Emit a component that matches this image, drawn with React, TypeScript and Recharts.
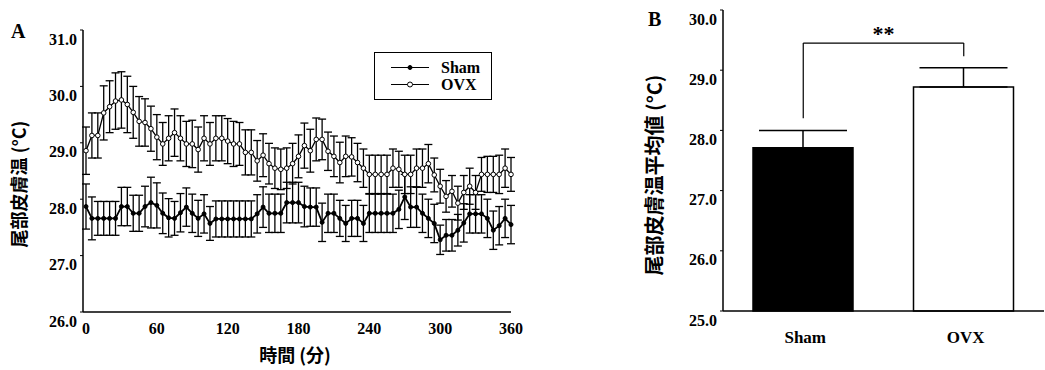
import React from 'react';
import {
  LineChart,
  Line,
  XAxis,
  YAxis,
  ErrorBar,
  Legend,
  BarChart,
  Bar,
  Cell,
  ReferenceLine,
} from 'recharts';

// A: tail skin temperature every 5 min
const minutes = [
  0, 5, 10, 15, 20, 25, 30, 35, 40, 45, 50, 55,
  60, 65, 70, 75, 80, 85, 90, 95, 100, 105, 110, 115,
  120, 125, 130, 135, 140, 145, 150, 155, 160, 165, 170, 175,
  180, 185, 190, 195, 200, 205, 210, 215, 220, 225, 230, 235,
  240, 245, 250, 255, 260, 265, 270, 275, 280, 285, 290, 295,
  300, 305, 310, 315, 320, 325, 330, 335, 340, 345, 350, 355,
  360,
];

const shamTemp = [
  27.87, 27.66, 27.66, 27.66, 27.66, 27.66, 27.87, 27.87, 27.75, 27.75, 27.87, 27.94,
  27.89, 27.75, 27.67, 27.66, 27.76, 27.86, 27.75, 27.66, 27.74, 27.57, 27.65, 27.65,
  27.65, 27.65, 27.65, 27.65, 27.65, 27.74, 27.86, 27.75, 27.75, 27.75, 27.94, 27.94,
  27.94, 27.87, 27.86, 27.86, 27.59, 27.75, 27.75, 27.66, 27.57, 27.66, 27.66, 27.57,
  27.75, 27.75, 27.75, 27.75, 27.75, 27.82, 28.04, 27.86, 27.86, 27.75, 27.66, 27.57,
  27.28, 27.36, 27.36, 27.45, 27.58, 27.74, 27.74, 27.74, 27.66, 27.45, 27.53, 27.66,
  27.55,
];

const shamErr = [
  0.40, 0.38, 0.30, 0.30, 0.30, 0.30, 0.34, 0.34, 0.32, 0.32, 0.36, 0.45,
  0.40, 0.36, 0.34, 0.30, 0.34, 0.34, 0.34, 0.32, 0.34, 0.30, 0.32, 0.32,
  0.32, 0.32, 0.32, 0.32, 0.32, 0.34, 0.36, 0.34, 0.34, 0.34, 0.36, 0.36,
  0.36, 0.36, 0.34, 0.34, 0.34, 0.34, 0.34, 0.32, 0.32, 0.32, 0.32, 0.32,
  0.34, 0.34, 0.34, 0.34, 0.34, 0.34, 0.40, 0.36, 0.36, 0.34, 0.34, 0.34,
  0.26, 0.28, 0.28, 0.28, 0.34, 0.34, 0.34, 0.34, 0.34, 0.34, 0.34, 0.34,
  0.34,
];

const ovxTemp = [
  28.86, 29.13, 29.13, 29.53, 29.64, 29.74, 29.76, 29.68, 29.54, 29.38, 29.36, 29.25,
  29.10, 28.98, 29.08, 29.18, 29.08, 28.98, 28.98, 28.88, 29.08, 28.98, 29.08, 29.08,
  29.03, 28.98, 28.98, 28.83, 28.83, 28.68, 28.78, 28.63, 28.55, 28.53, 28.55, 28.63,
  28.76, 28.95, 28.86, 29.06, 29.06, 28.85, 28.76, 28.65, 28.76, 28.75, 28.65, 28.55,
  28.44, 28.44, 28.44, 28.44, 28.55, 28.53, 28.44, 28.44, 28.55, 28.55, 28.63, 28.43,
  28.23, 28.05, 28.14, 27.93, 28.12, 28.23, 28.12, 28.44, 28.44, 28.44, 28.44, 28.55,
  28.44,
];

const ovxErr = [
  0.42, 0.40, 0.40, 0.48, 0.46, 0.50, 0.50, 0.50, 0.46, 0.44, 0.42, 0.40,
  0.40, 0.38, 0.40, 0.42, 0.40, 0.40, 0.42, 0.40, 0.40, 0.38, 0.40, 0.40,
  0.40, 0.40, 0.38, 0.40, 0.40, 0.36, 0.38, 0.36, 0.36, 0.36, 0.36, 0.36,
  0.38, 0.40, 0.38, 0.38, 0.36, 0.34, 0.36, 0.36, 0.36, 0.34, 0.34, 0.34,
  0.34, 0.34, 0.34, 0.34, 0.34, 0.32, 0.34, 0.34, 0.34, 0.34, 0.34, 0.30,
  0.30, 0.28, 0.28, 0.30, 0.30, 0.32, 0.30, 0.30, 0.32, 0.32, 0.34, 0.34,
  0.30,
];

const timeTicks = [0, 60, 120, 180, 240, 300, 360];
const tempTicksA = [26, 27, 28, 29, 30, 31];

// B: mean tail skin temperature
const groups = ['Sham', 'OVX'];
const groupMean = [27.71, 28.72];
const groupErr = [0.29, 0.32];
const tempTicksB = [25, 26, 27, 28, 29, 30];

const SERIF = '"Liberation Serif", "DejaVu Serif", serif';
const CJK = '"Noto Sans CJK JP", "Noto Sans CJK SC", sans-serif';

const lineData = minutes.map((t, i) => ({
  t,
  sham: shamTemp[i],
  shamErr: shamErr[i],
  ovx: ovxTemp[i],
  ovxErr: ovxErr[i],
}));

const barData = groups.map((g, i) => ({
  group: g,
  mean: groupMean[i],
  err: [0, groupErr[i]],
}));

const tickText = {
  fontFamily: SERIF,
  fontWeight: 700,
  fontSize: 16,
  fill: '#000',
};

// tick labels in the scan sit a bit below their tick marks
function YTick(props: any) {
  const { x, y, payload } = props;
  return (
    <text x={x - 3} y={y + 9} textAnchor="end" dominantBaseline="central" style={tickText}>
      {Number(payload.value).toFixed(1)}
    </text>
  );
}

function TimeTick(props: any) {
  const { x, y, payload } = props;
  return (
    <text x={x} y={y + 16} textAnchor="middle" dominantBaseline="central" style={tickText}>
      {payload.value}
    </text>
  );
}

function GroupTick(props: any) {
  const { x, y, payload } = props;
  return (
    <text
      x={x + 2}
      y={y + 26}
      textAnchor="middle"
      dominantBaseline="central"
      style={{ ...tickText, fontSize: 17 }}
    >
      {payload.value}
    </text>
  );
}

function LegendBox() {
  const rows = [
    { name: 'Sham', fill: '#000', r: 2 },
    { name: 'OVX', fill: '#fff', r: 2.5 },
  ];
  return (
    <div
      style={{
        position: 'relative',
        border: '1.5px solid #000',
        width: 116,
        height: 46,
        boxSizing: 'content-box',
        background: '#fff',
      }}
    >
      {rows.map((r, i) => (
        <div
          key={r.name}
          style={{ position: 'absolute', left: 0, top: 6 + i * 17, height: 17, display: 'flex', alignItems: 'center' }}
        >
          <svg width={66} height={17}>
            <line x1={16} x2={54} y1={8.5} y2={8.5} stroke="#000" strokeWidth={1.2} />
            <circle cx={35} cy={8.5} r={r.r} fill={r.fill} stroke="#000" strokeWidth={1} />
          </svg>
          <span style={{ ...tickText, fontSize: 16, lineHeight: '17px' }}>{r.name}</span>
        </div>
      ))}
    </div>
  );
}

const titleStyle: React.CSSProperties = {
  position: 'absolute',
  fontFamily: SERIF,
  fontWeight: 700,
  fontSize: 20,
  lineHeight: 1,
  color: '#000',
};

const cjkLabel: React.CSSProperties = {
  position: 'absolute',
  fontFamily: CJK,
  fontWeight: 700,
  color: '#000',
  whiteSpace: 'nowrap',
  lineHeight: 1,
};

export default function App() {
  return (
    <div style={{ position: 'absolute', left: 0, top: 0, width: 1045, height: 370, background: '#fff' }}>
      <div style={{ position: 'absolute', left: 0, top: 0 }}>
        <LineChart width={540} height={370} data={lineData} margin={{ top: 30, right: 29, bottom: 0, left: 0 }}>
          <XAxis
            dataKey="t"
            type="number"
            domain={[0, 360]}
            ticks={timeTicks}
            padding={{ left: 3, right: 0 }}
            height={58}
            tickLine={false}
            tickSize={0}
            tickMargin={0}
            tick={<TimeTick />}
            axisLine={{ stroke: '#000', strokeWidth: 1.5 }}
          />
          <YAxis
            type="number"
            domain={[26, 31]}
            ticks={tempTicksA}
            width={83}
            tickSize={3}
            tickMargin={0}
            tick={<YTick />}
            tickLine={{ stroke: '#000' }}
            axisLine={{ stroke: '#000', strokeWidth: 1.5 }}
          />
          <Legend
            layout="horizontal"
            verticalAlign="middle"
            align="center"
            content={<LegendBox />}
            wrapperStyle={{ left: 374, top: 52, width: 119, height: 49 }}
          />
          <Line
            dataKey="sham"
            name="Sham"
            type="linear"
            stroke="#000"
            strokeWidth={1.8}
            dot={{ r: 2, fill: '#000', stroke: '#000', strokeWidth: 1 }}
            isAnimationActive={false}
          >
            <ErrorBar dataKey="shamErr" width={4} stroke="#000" strokeWidth={1.3} />
          </Line>
          <Line
            dataKey="ovx"
            name="OVX"
            type="linear"
            stroke="#000"
            strokeWidth={1.3}
            dot={{ r: 2.3, fill: '#fff', stroke: '#000', strokeWidth: 1 }}
            isAnimationActive={false}
          >
            <ErrorBar dataKey="ovxErr" width={4} stroke="#000" strokeWidth={1.3} />
          </Line>
        </LineChart>
      </div>

      <div style={{ position: 'absolute', left: 640, top: 0 }}>
        <BarChart width={405} height={370} data={barData} margin={{ top: 10, right: 1, bottom: 0, left: 0 }}>
          <XAxis
            dataKey="group"
            height={59}
            tickLine={false}
            tickSize={0}
            tickMargin={0}
            tick={<GroupTick />}
            axisLine={{ stroke: '#000', strokeWidth: 1.5 }}
          />
          <XAxis
            xAxisId="top"
            dataKey="group"
            orientation="top"
            height={0}
            tick={false}
            tickLine={false}
            axisLine={{ stroke: '#000', strokeWidth: 1.5 }}
          />
          <YAxis
            type="number"
            domain={[25, 30]}
            ticks={tempTicksB}
            width={83}
            tickSize={3}
            tickMargin={0}
            tick={<YTick />}
            tickLine={{ stroke: '#000' }}
            axisLine={{ stroke: '#000', strokeWidth: 1.5 }}
          />
          <YAxis
            yAxisId="right"
            orientation="right"
            type="number"
            domain={[25, 30]}
            width={0}
            tick={false}
            tickLine={false}
            axisLine={{ stroke: '#000', strokeWidth: 1.5 }}
          />
          <Bar dataKey="mean" barSize={100} isAnimationActive={false}>
            {groups.map((g, i) => (
              <Cell key={g} fill={i === 0 ? '#000' : '#fff'} stroke="#000" strokeWidth={1.5} />
            ))}
            <ErrorBar dataKey="err" width={44} stroke="#000" strokeWidth={1.5} />
          </Bar>
          <ReferenceLine
            segment={[{ x: 'Sham', y: 28.2 }, { x: 'Sham', y: 29.45 }]}
            stroke="#000"
            strokeWidth={1.2}
          />
          <ReferenceLine
            segment={[{ x: 'Sham', y: 29.45 }, { x: 'OVX', y: 29.45 }]}
            stroke="#000"
            strokeWidth={1.2}
            label={{
              value: '**',
              position: 'top',
              offset: 2,
              style: { fontFamily: SERIF, fontWeight: 700, fontSize: 22, fill: '#000' },
            }}
          />
          <ReferenceLine
            segment={[{ x: 'OVX', y: 29.45 }, { x: 'OVX', y: 29.23 }]}
            stroke="#000"
            strokeWidth={1.2}
          />
        </BarChart>
      </div>

      <div style={{ ...titleStyle, left: 11, top: 21 }}>A</div>
      <div style={{ ...titleStyle, left: 648, top: 9 }}>B</div>

      <div
        style={{
          ...cjkLabel,
          fontSize: 18,
          left: 18,
          top: 184,
          transform: 'translate(-50%, -50%) rotate(-90deg)',
        }}
      >
        尾部皮膚温 (°C)
      </div>
      <div
        style={{
          ...cjkLabel,
          fontSize: 20,
          left: 654,
          top: 175,
          transform: 'translate(-50%, -50%) rotate(-90deg)',
        }}
      >
        尾部皮膚温平均値 (°C)
      </div>
      <div style={{ ...cjkLabel, fontSize: 18, left: 295, top: 354, transform: 'translate(-50%, -50%)' }}>
        時間 (分)
      </div>
    </div>
  );
}
